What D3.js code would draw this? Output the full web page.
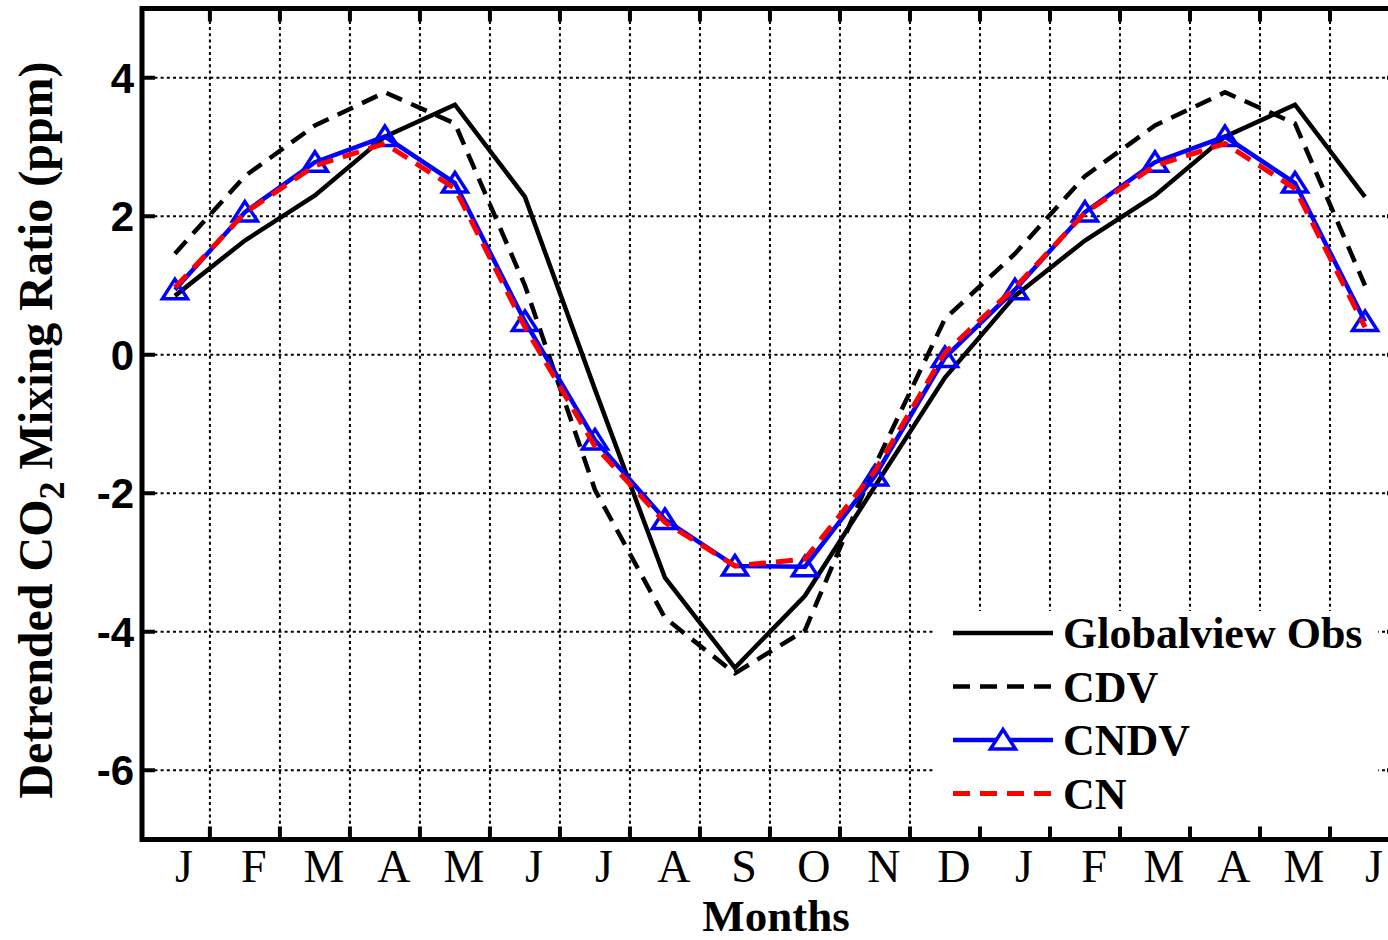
<!DOCTYPE html>
<html>
<head>
<meta charset="utf-8">
<script src="https://cdn.jsdelivr.net/npm/d3@7"></script>
<style>
  body { margin: 0; background: #fff; }
  svg { display: block; }
</style>
</head>
<body>
<svg id="chart" width="1388" height="940"></svg>
<script>
// Monthly detrended CO2 cycle, shown for 18 months (Jan..Dec, then Jan..Jun again)
const months = ["J", "F", "M", "A", "M", "J", "J", "A", "S", "O", "N", "D"]
const obs  = [0.85, 1.65, 2.30, 3.15, 3.61, 2.28, -0.50, -3.22, -4.52, -3.48, -1.90, -0.33]
const cdv  = [1.46, 2.58, 3.31, 3.79, 3.34, 1.00, -1.95, -3.80, -4.60, -3.98, -1.60, 0.52]
const cndv = [0.94, 2.06, 2.78, 3.15, 2.48, 0.48, -1.23, -2.38, -3.05, -3.06, -1.75, -0.04]
const cn   = [0.97, 2.05, 2.73, 3.05, 2.40, 0.40, -1.32, -2.42, -3.05, -2.95, -1.68, 0.03]
const yTicks = [-6, -4, -2, 0, 2, 4]
const NPOINTS = 18

const series = [
  { name: "Globalview Obs", values: obs,  color: "#000", dash: null,    width: 4.5, marker: false },
  { name: "CDV",            values: cdv,  color: "#000", dash: "17,10", width: 4.5, marker: false },
  { name: "CNDV",           values: cndv, color: "#0000ff", dash: null, width: 4.5, marker: true },
  { name: "CN",             values: cn,   color: "#ff0000", dash: "17,10", width: 5, marker: false }
]

const svg = d3.select("#chart")

const x = d3.scaleLinear().domain([-0.47, 17.5]).range([142, 1400])
const y = d3.scaleLinear().domain([-7, 5]).range([839.5, 8.5])

const [xLeft, xRight] = x.range()
const [yBottom, yTop] = y.range()

// index -> month index (cycled)
const idx = d3.range(NPOINTS)
const xGrid = d3.range(0.5, NPOINTS - 1, 1)

// grid
const grid = svg.append("g")
  .attr("stroke", "#000")
  .attr("stroke-width", 2)
  .attr("stroke-dasharray", "3,3.2")

grid.selectAll("line.v").data(xGrid).join("line")
  .attr("class", "v")
  .attr("x1", d => x(d)).attr("x2", d => x(d))
  .attr("y1", yTop).attr("y2", yBottom)

grid.selectAll("line.h").data(yTicks).join("line")
  .attr("class", "h")
  .attr("x1", xLeft).attr("x2", xRight)
  .attr("y1", d => y(d)).attr("y2", d => y(d))

// lines
const line = d3.line()
  .x(i => x(i))

series.forEach(s => {
  line.y(i => y(s.values[i % 12]))
  svg.append("path")
    .datum(idx)
    .attr("d", line)
    .attr("fill", "none")
    .attr("stroke", s.color)
    .attr("stroke-width", s.width)
    .attr("stroke-dasharray", s.dash)
    .attr("stroke-linejoin", "miter")
})

// triangles for CNDV. drawn before CN so the red dashes sit on top
const tri = "M0,-10.5L12.5,9L-12.5,9Z"
const cndvSeries = series[2]
svg.insert("g", "path:last-of-type")
  .selectAll("path").data(idx).join("path")
  .attr("d", tri)
  .attr("transform", i => `translate(${x(i)},${y(cndvSeries.values[i % 12])})`)
  .attr("fill", "none")
  .attr("stroke", cndvSeries.color)
  .attr("stroke-width", 3.5)

// legend (white patch, no border)
const lg = svg.append("g")
lg.append("rect")
  .attr("x", 935).attr("y", 611)
  .attr("width", 443).attr("height", 226)
  .attr("fill", "#fff")

const rows = lg.selectAll("g").data(series).join("g")
  .attr("transform", (d, i) => `translate(953,${633 + i * 53.5})`)

rows.append("line")
  .attr("x1", 0).attr("x2", 100)
  .attr("stroke", d => d.color)
  .attr("stroke-width", d => d.width)
  .attr("stroke-dasharray", d => d.dash)

rows.filter(d => d.marker).append("path")
  .attr("d", tri)
  .attr("transform", "translate(50,0)")
  .attr("fill", "#fff")
  .attr("stroke", d => d.color)
  .attr("stroke-width", 3.5)

rows.append("text")
  .attr("x", 110).attr("y", 15)
  .attr("font-family", "'Liberation Serif', 'Times New Roman', serif")
  .attr("font-weight", "bold")
  .attr("font-size", 44)
  .text(d => d.name)

// frame
svg.append("rect")
  .attr("x", xLeft).attr("y", yTop)
  .attr("width", xRight - xLeft).attr("height", yBottom - yTop)
  .attr("fill", "none")
  .attr("stroke", "#000")
  .attr("stroke-width", 5)

// tick marks (inward, all four sides)
const ticks = svg.append("g").attr("stroke", "#000").attr("stroke-width", 4)
const TL = 13
ticks.selectAll("line.b").data(xGrid).join("line").attr("class", "b")
  .attr("x1", d => x(d)).attr("x2", d => x(d)).attr("y1", yBottom).attr("y2", yBottom - TL)
ticks.selectAll("line.t").data(xGrid).join("line").attr("class", "t")
  .attr("x1", d => x(d)).attr("x2", d => x(d)).attr("y1", yTop).attr("y2", yTop + TL)
ticks.selectAll("line.l").data(yTicks).join("line").attr("class", "l")
  .attr("x1", xLeft).attr("x2", xLeft + TL).attr("y1", d => y(d)).attr("y2", d => y(d))
ticks.selectAll("line.r").data(yTicks).join("line").attr("class", "r")
  .attr("x1", xRight).attr("x2", xRight - TL).attr("y1", d => y(d)).attr("y2", d => y(d))

// y tick labels
svg.append("g").selectAll("text").data(yTicks).join("text")
  .attr("x", 134)
  .attr("y", d => y(d) + 15)
  .attr("text-anchor", "end")
  .attr("font-family", "'Liberation Sans', Arial, sans-serif")
  .attr("font-weight", "bold")
  .attr("font-size", 42)
  .text(d => d)

// x tick labels
svg.append("g").selectAll("text").data(idx).join("text")
  .attr("x", i => x(i) + 9)
  .attr("y", 882)
  .attr("text-anchor", "middle")
  .attr("font-family", "'Liberation Serif', 'Times New Roman', serif")
  .attr("font-size", 46)
  .text(i => months[i % 12])

// axis titles
svg.append("text")
  .attr("x", 776).attr("y", 931)
  .attr("text-anchor", "middle")
  .attr("font-family", "'Liberation Serif', 'Times New Roman', serif")
  .attr("font-weight", "bold")
  .attr("font-size", 45)
  .text("Months")

const ylab = svg.append("text")
  .attr("transform", "translate(52,430) rotate(-90)")
  .attr("text-anchor", "middle")
  .attr("font-family", "'Liberation Serif', 'Times New Roman', serif")
  .attr("font-weight", "bold")
  .attr("font-size", 48)
ylab.append("tspan").text("Detrended CO")
ylab.append("tspan").attr("dy", 12).attr("font-size", 36).text("2")
ylab.append("tspan").attr("dy", -12).text(" Mixing Ratio (ppm)")
</script>
</body>
</html>
